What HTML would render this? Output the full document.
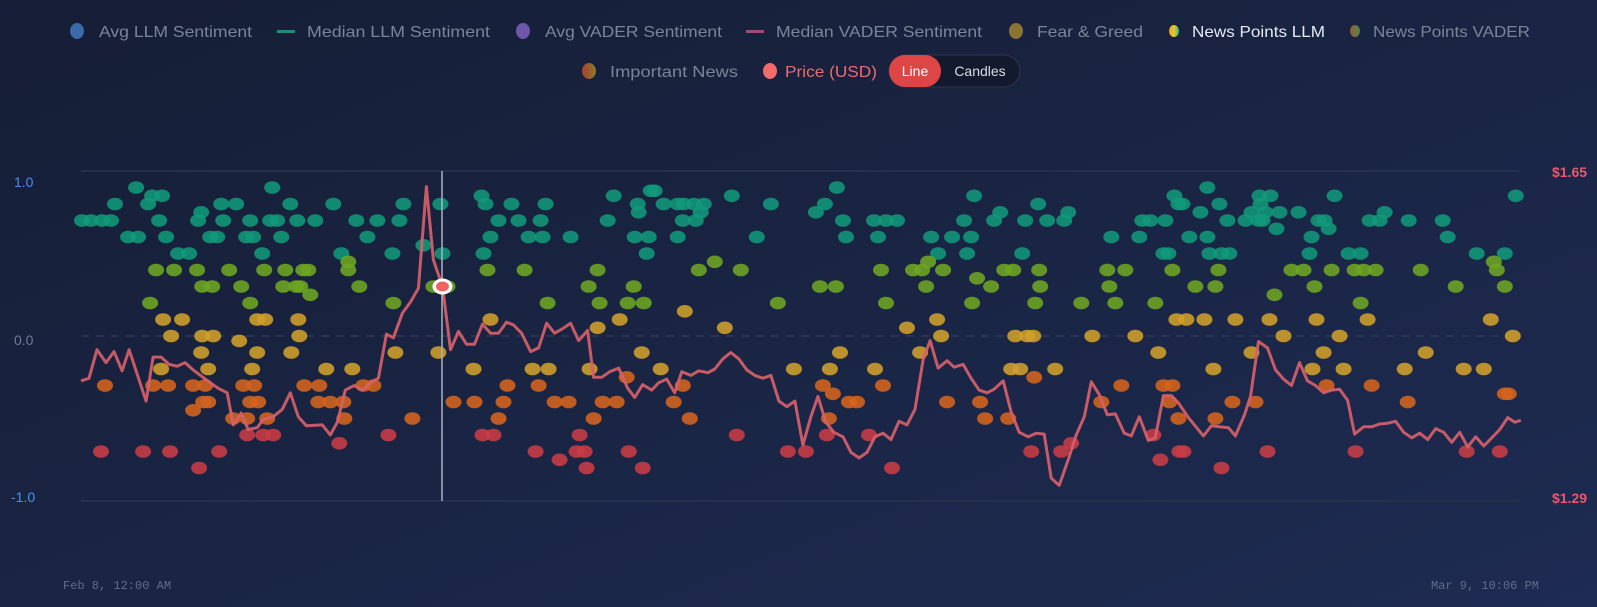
<!DOCTYPE html>
<html><head><meta charset="utf-8"><style>
html,body{margin:0;padding:0;width:1597px;height:607px;overflow:hidden;background:#18223d;}
svg{display:block;font-family:"Liberation Sans",sans-serif;}
</style></head><body>
<svg id="chart" width="1597" height="607" viewBox="0 0 1597 607">
<defs>
<linearGradient id="bg" x1="0" y1="0" x2="1" y2="1"><stop offset="0" stop-color="#151e35"/><stop offset="1" stop-color="#1e2b52"/></linearGradient>
<linearGradient id="gLLM" x1="0" y1="0" x2="1" y2="0"><stop offset="0" stop-color="#f5a623"/><stop offset="0.5" stop-color="#e8c62a"/><stop offset="1" stop-color="#2ec27e"/></linearGradient>
<linearGradient id="gVADER" x1="0" y1="0" x2="1" y2="0"><stop offset="0" stop-color="#9a5a3a"/><stop offset="1" stop-color="#4c8a45"/></linearGradient>
<linearGradient id="gImp" x1="0" y1="0" x2="1" y2="0"><stop offset="0" stop-color="#a8402e"/><stop offset="1" stop-color="#8a7a2c"/></linearGradient>
</defs>
<rect x="0" y="0" width="1597" height="607" fill="url(#bg)"/>

<g font-size="16" fill="#7a8599">
 <g><ellipse cx="77" cy="31" rx="7" ry="8" fill="#3d6aa8"/><text x="99" y="37" textLength="153" lengthAdjust="spacingAndGlyphs">Avg LLM Sentiment</text></g>
 <g><rect x="277" y="30" width="18" height="3" fill="#1f8f73"/><text x="307" y="37" textLength="183" lengthAdjust="spacingAndGlyphs">Median LLM Sentiment</text></g>
 <g><ellipse cx="523" cy="31" rx="7" ry="8" fill="#6e57a8"/><text x="545" y="37" textLength="177" lengthAdjust="spacingAndGlyphs">Avg VADER Sentiment</text></g>
 <g><rect x="746" y="30" width="18" height="3" fill="#a04a78"/><text x="776" y="37" textLength="206" lengthAdjust="spacingAndGlyphs">Median VADER Sentiment</text></g>
 <g><ellipse cx="1016" cy="31" rx="7" ry="8" fill="#8a7535"/><text x="1037" y="37" textLength="106" lengthAdjust="spacingAndGlyphs">Fear &amp; Greed</text></g>
 <g><ellipse cx="1174" cy="31" rx="5" ry="6" fill="url(#gLLM)"/><text x="1192" y="37" fill="#e6e9f0" textLength="133" lengthAdjust="spacingAndGlyphs">News Points LLM</text></g>
 <g><ellipse cx="1355" cy="31" rx="5" ry="6" fill="url(#gVADER)"/><text x="1373" y="37" textLength="157" lengthAdjust="spacingAndGlyphs">News Points VADER</text></g>
 <g><ellipse cx="589" cy="71" rx="7" ry="8" fill="url(#gImp)"/><text x="610" y="77" textLength="128" lengthAdjust="spacingAndGlyphs">Important News</text></g>
 <g><ellipse cx="770" cy="71" rx="7" ry="8" fill="#f26b6b"/><text x="785" y="77" fill="#f06a6a" textLength="92" lengthAdjust="spacingAndGlyphs">Price (USD)</text></g>
 <g>
  <rect x="889" y="55" width="131" height="32" rx="16" fill="#131a2e" stroke="#2e3750"/>
  <g><rect x="889" y="55" width="52" height="32" rx="16" fill="#de4545"/><text x="915" y="76" font-size="14" fill="#ffffff" text-anchor="middle">Line</text></g>
  <g><text x="980" y="76" font-size="14" fill="#d6dbe6" text-anchor="middle">Candles</text></g>
 </g>
</g>

<g>
 <line x1="81" y1="171" x2="1519" y2="171" stroke="#25304c" stroke-width="2"/>
 <line x1="81" y1="501" x2="1519" y2="501" stroke="#25304c" stroke-width="2"/>
 <line x1="81" y1="336" x2="1519" y2="336" stroke="#2f3a56" stroke-width="1.5" stroke-dasharray="8,7"/>
</g>
<g font-size="14">
 <text x="14" y="187" fill="#4b8ef0">1.0</text>
 <text x="14" y="345" fill="#6f7d99">0.0</text>
 <text x="11" y="502" fill="#4b8ef0">-1.0</text>
</g>
<g font-size="14" font-weight="bold" fill="#ef566a">
 <text x="1552" y="177">$1.65</text>
 <text x="1552" y="503">$1.29</text>
</g>
<g font-family="Liberation Mono, monospace" font-size="12" fill="#5f6d8a">
 <text x="63" y="589">Feb 8, 12:00 AM</text>
 <text x="1539" y="589" text-anchor="end">Mar 9, 10:06 PM</text>
</g>
<g id="dots"></g>
<path id="price" fill="none" stroke="#d65f6a" stroke-width="3" stroke-linejoin="round" opacity="0.92"/>
<line x1="442" y1="171" x2="442" y2="501" stroke="#aab1c0" stroke-width="1.5"/>
<g id="hl"></g>
</svg>
<script>
const priceHours = [0,4,8,12.5,16.5,20.5,24,32.5,36,40,44,48,52,56,64.5,68.5,73,76,80,83.5,88,91,96,100.5,104.5,108.5,112.5,120.5,124.5,128,132,136.5,140.5,144.5,148.5,152.5,156,160.5,164.5,168.5,172.5,176,180.5,184.5,188.5,192.5,196.5,200.5,204.5,208.5,212.5,216,220,224.5,228.5,232.5,236.5,240.5,244.5,248.5,253,256,260,264,268.5,273,276.5,280.5,285,288.5,292.5,296.5,300,304.5,308.5,313,316.5,320.5,324.5,328.5,332.5,336.5,340.5,344.5,348.5,352.5,356.5,360.5,364.5,368,372,376,380.5,384.5,388.5,392.5,396.5,400.5,404.5,408.5,412.5,416.5,420.5,424,428,432.5,436,440.5,444.5,448.5,452.5,456,460.5,464.5,468.5,473,477,481,484.5,488.5,493,497,501,504.5,508.5,512.5,516.5,521,524.5,528.5,533,536.5,540.5,544.5,548,553,556,560.5,564.5,568.5,573,576.5,581,584,588,592.5,596.5,600.5,604.5,608.5,612.5,616.5,620.5,624.5,628.5,632.5,636,640.5,644.5,648.5,653,656.5,660.5,664.5,668.5,672.5,676.5,680.5,684.5,688.5,692.5,696.5,700.5,704.5,708.5,712.5,716,719];
const priceValues = [1.421,1.424,1.455,1.441,1.453,1.432,1.455,1.399,1.447,1.447,1.439,1.437,1.441,1.433,1.419,1.413,1.408,1.373,1.386,1.368,1.370,1.379,1.382,1.390,1.408,1.382,1.372,1.373,1.362,1.376,1.411,1.416,1.411,1.419,1.424,1.472,1.468,1.495,1.507,1.522,1.633,1.553,1.524,1.455,1.475,1.461,1.461,1.483,1.473,1.473,1.485,1.482,1.473,1.453,1.457,1.484,1.473,1.478,1.484,1.465,1.476,1.425,1.425,1.431,1.435,1.413,1.403,1.417,1.411,1.419,1.423,1.408,1.431,1.427,1.432,1.430,1.434,1.445,1.452,1.445,1.433,1.427,1.424,1.427,1.399,1.393,1.399,1.351,1.382,1.404,1.376,1.365,1.360,1.343,1.337,1.343,1.360,1.364,1.357,1.377,1.373,1.390,1.444,1.465,1.435,1.443,1.436,1.439,1.424,1.411,1.408,1.412,1.421,1.387,1.365,1.360,1.364,1.363,1.315,1.307,1.335,1.362,1.382,1.420,1.406,1.384,1.385,1.364,1.361,1.382,1.356,1.359,1.405,1.405,1.397,1.381,1.373,1.361,1.372,1.371,1.370,1.361,1.384,1.404,1.464,1.457,1.433,1.423,1.416,1.441,1.421,1.416,1.408,1.411,1.412,1.400,1.363,1.371,1.371,1.374,1.375,1.377,1.365,1.359,1.364,1.357,1.369,1.365,1.354,1.365,1.349,1.360,1.350,1.359,1.368,1.381,1.376,1.378];
const newsHours = [
27.5,95.5, 35.5,40.5,200, 17,33.5,70,77.5,104.5,126,161,179.5,202, 60,
0.5,5,10.5,15,39,58.5,71,84.5,94.5,98,108,117,137.5,148,159,208.5,
23.5,28.5,42.5,64.5,68,82.5,86,100,143,204.5, 171, 48.5,54,90.5,130,155.5,180.5,201, 133.5,
37.5,46.5,58,74,91.5,102,111,113.5,203,133.5, 60.5,65.5,80,101,107.5,109.5,139,176,183, 114.5,
34.5,84.5,156, 41,50.5,88,92,108.5,204.5, 45,60.5,66,109, 79, 60,88,105,157,178.5,
40,63.5,85.5,122.5,135.5,196, 12,36,43.5,56,62,81,86.5,111.5,119,141,146,
61,63.5,84.5,88.5,118.5,124.5,131,186,196.5, 56, 76,83,93,131.5,165.5,208.5,
83,91,96,153.5,200.5,206, 129, 10,31,44.5,69, 59,
284.5,286.5, 266,325, 215,232,278,291,298,301,306,311,344.5, 278.5,309.5, 218.5,229.5,263,300.5,307,
223.5,230.5,244.5,276.5,283.5,298,337.5, 282.5, 316.5, 221.5,258,308.5,329.5, 253.5,276,
233,259,273,281,348, 301.5, 269, 258,321.5, 280, 225.5,233.5,254,289.5,356, 272.5,
213,228.5,300.5, 211,236.5,243.5,260.5,267.5,296, 256,304, 249,327.5, 227,247.5,251.5,273.5,353,362, 239, 252.5,280.5,
377.5, 446,546, 371.5,478,548, 367,459,493,
380.5,396,402,407.5,441,456,471.5,482.5,491,530,534,541.5,
382,398,424.5,435,444.5,514.5,528.5, 428,442.5,470,540.5,543, 423,
399.5,415.5,420,430.5,461,465.5,478.5,512.5,521.5,545, 447.5,
369,377,422,454.5,479,513.5, 402,445,476.5,499.5,516.5,536.5, 427.5,547, 412.5,
429.5,466.5,472.5,475.5,505,526.5, 379,419,538, 374,396.5,464.5,469,486.5, 476,
370.5,400.5,519.5,540.5,545, 375.5, 383.5,387.5,432.5,449,509.5,543.5, 373.5,451.5,463,548,
372.5,393.5,535.5, 494.5, 474.5,489.5,548.5, 539, 405,
562.5, 588.5,594,626,716.5, 550,568.5,589, 559,584.5,591.5,598.5,608,651,
572.5,581.5,588,590,618,621,643.5,648.5,663,680, 597,623, 553.5,562.5,614.5,682.5,
563.5,569.5,573.5,613.5,633,639,697,711, 705.5,
568,604.5,610.5,624.5,636,640.5,646.5,669,707, 556.5,566.5,616,686.5,711, 596, 639,
552,561,576.5,593.5,617,642.5,704, 600.5,628.5,715, 584.5,620.5,671.5,
565.5,615,630.5,661,690.5,700.5, 622,644.5, 711,713, 575,586.5,662.5, 566.5,
550.5,592.5,636.5,692,708.5, 569.5];
const newsScores = [
0.9,0.9, 0.85,0.85,0.85, 0.8,0.8,0.8,0.8,0.8,0.8,0.8,0.8,0.8, 0.75,
0.7,0.7,0.7,0.7,0.7,0.7,0.7,0.7,0.7,0.7,0.7,0.7,0.7,0.7,0.7,0.7,
0.6,0.6,0.6,0.6,0.6,0.6,0.6,0.6,0.6,0.6, 0.55, 0.5,0.5,0.5,0.5,0.5,0.5,0.5, 0.45,
0.4,0.4,0.4,0.4,0.4,0.4,0.4,0.4,0.4,0.4, 0.3,0.3,0.3,0.3,0.3,0.3,0.3,0.3,0.3, 0.25,
0.2,0.2,0.2, 0.1,0.1,0.1,0.1,0.1,0.1, 0,0,0,0, -0.03, -0.1,-0.1,-0.1,-0.1,-0.1,
-0.2,-0.2,-0.2,-0.2,-0.2,-0.2, -0.3,-0.3,-0.3,-0.3,-0.3,-0.3,-0.3,-0.3,-0.3,-0.3,-0.3,
-0.4,-0.4,-0.4,-0.4,-0.4,-0.4,-0.4,-0.4,-0.4, -0.45, -0.5,-0.5,-0.5,-0.5,-0.5,-0.5,
-0.6,-0.6,-0.6,-0.6,-0.6,-0.6, -0.65, -0.7,-0.7,-0.7,-0.7, -0.8,
0.88,0.88, 0.85,0.85, 0.8,0.8,0.8,0.8,0.8,0.8,0.8,0.8,0.8, 0.75,0.75, 0.7,0.7,0.7,0.7,0.7,
0.6,0.6,0.6,0.6,0.6,0.6,0.6, 0.5, 0.45, 0.4,0.4,0.4,0.4, 0.3,0.3,
0.2,0.2,0.2,0.2,0.2, 0.15, 0.1, 0.05,0.05, -0.1, -0.2,-0.2,-0.2,-0.2,-0.2, -0.25,
-0.3,-0.3,-0.3, -0.4,-0.4,-0.4,-0.4,-0.4,-0.4, -0.5,-0.5, -0.6,-0.6, -0.7,-0.7,-0.7,-0.7,-0.7,-0.7, -0.75, -0.8,-0.8,
0.9, 0.85,0.85, 0.8,0.8,0.8, 0.75,0.75,0.75,
0.7,0.7,0.7,0.7,0.7,0.7,0.7,0.7,0.7,0.7,0.7,0.7,
0.6,0.6,0.6,0.6,0.6,0.6,0.6, 0.5,0.5,0.5,0.5,0.5, 0.45,
0.4,0.4,0.4,0.4,0.4,0.4,0.4,0.4,0.4,0.4, 0.35,
0.3,0.3,0.3,0.3,0.3,0.3, 0.2,0.2,0.2,0.2,0.2,0.2, 0.1,0.1, 0.05,
0,0,0,0,0,0, -0.1,-0.1,-0.1, -0.2,-0.2,-0.2,-0.2,-0.2, -0.25,
-0.3,-0.3,-0.3,-0.3,-0.3, -0.35, -0.4,-0.4,-0.4,-0.4,-0.4,-0.4, -0.5,-0.5,-0.5,-0.5,
-0.6,-0.6,-0.6, -0.65, -0.7,-0.7,-0.7, -0.75, -0.8,
0.9, 0.85,0.85,0.85,0.85, 0.8,0.8,0.8, 0.75,0.75,0.75,0.75,0.75,0.75,
0.7,0.7,0.7,0.7,0.7,0.7,0.7,0.7,0.7,0.7, 0.65,0.65, 0.6,0.6,0.6,0.6,
0.5,0.5,0.5,0.5,0.5,0.5,0.5,0.5, 0.45,
0.4,0.4,0.4,0.4,0.4,0.4,0.4,0.4,0.4, 0.3,0.3,0.3,0.3,0.3, 0.25, 0.2,
0.1,0.1,0.1,0.1,0.1,0.1,0.1, 0,0,0, -0.1,-0.1,-0.1,
-0.2,-0.2,-0.2,-0.2,-0.2,-0.2, -0.3,-0.3, -0.35,-0.35, -0.4,-0.4,-0.4, -0.5,
-0.7,-0.7,-0.7,-0.7,-0.7, -0.8];
const hoverHour = 180.5;
const hoverPrice = 1.524;

const X0 = 81, X1 = 1519, H_MAX = 718.1;
const xScale = h => X0 + (h / H_MAX) * (X1 - X0);
const yScore = v => 336 - v * 165;
const yPrice = p => 171 + (1.65 - p) / (1.65 - 1.29) * 330;
function colorFor(v){
  if (v >= 0.5) return '#11987a';
  if (v >= 0.2) return '#6da622';
  if (v >= -0.2) return '#d1a02a';
  if (v >= -0.5) return '#d5641d';
  return '#c93c44';
}
const NS = 'http://www.w3.org/2000/svg';
const dots = document.getElementById('dots');
for (let i = 0; i < newsHours.length && i < newsScores.length; i++) {
  const e = document.createElementNS(NS, 'ellipse');
  e.setAttribute('cx', xScale(newsHours[i]).toFixed(1));
  e.setAttribute('cy', yScore(newsScores[i]).toFixed(1));
  e.setAttribute('rx', 8);
  e.setAttribute('ry', 6.3);
  e.setAttribute('fill', colorFor(newsScores[i]));
  e.setAttribute('fill-opacity', 0.88);
  
  
  dots.appendChild(e);
}
let d = '';
priceHours.forEach((h, i) => { d += (i ? 'L' : 'M') + xScale(h).toFixed(1) + ',' + yPrice(priceValues[i]).toFixed(1); });
document.getElementById('price').setAttribute('d', d);
const hl = document.getElementById('hl');
const o = document.createElementNS(NS, 'ellipse');
o.setAttribute('cx', xScale(hoverHour)); o.setAttribute('cy', yPrice(hoverPrice));
o.setAttribute('rx', 10); o.setAttribute('ry', 8); o.setAttribute('fill', '#ffffff');


hl.appendChild(o);
const c = document.createElementNS(NS, 'ellipse');
c.setAttribute('cx', xScale(hoverHour)); c.setAttribute('cy', yPrice(hoverPrice));
c.setAttribute('rx', 6.5); c.setAttribute('ry', 5); c.setAttribute('fill', '#ef6262');


hl.appendChild(c);
</script>
</body></html>
